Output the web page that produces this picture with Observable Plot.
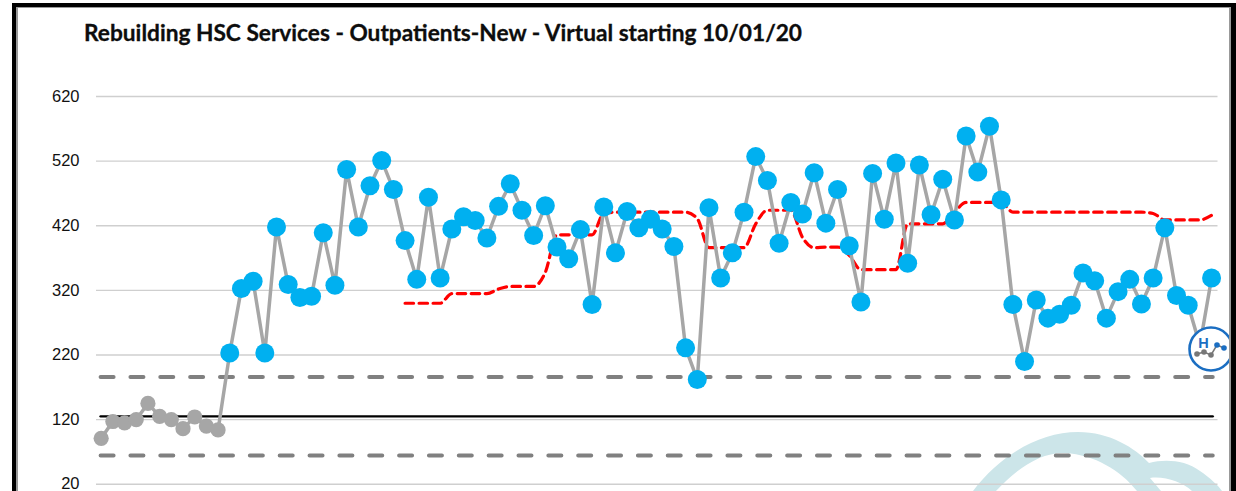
<!DOCTYPE html>
<html>
<head>
<meta charset="utf-8">
<script src="https://cdn.jsdelivr.net/npm/d3@7"></script>
<script src="https://cdn.jsdelivr.net/npm/@observablehq/plot@0.6"></script>
<style>
  html, body { margin: 0; padding: 0; background: #fff; overflow: hidden; }
  #page { position: relative; width: 1236px; height: 491px; overflow: hidden; }
  #title { position: absolute; left: 84px; top: 19px; font: 700 22.7px Lato, sans-serif; color: #0d0d0d; white-space: nowrap; -webkit-text-stroke: 0.3px #0d0d0d; }
  #chart, #decor, #frame, #icon { position: absolute; left: 0; top: 0; }
  #chart svg { background: transparent !important; display: block; }
  #frame { left: 12px; top: 3px; width: 1224px; height: 520px; box-sizing: border-box;
           border: solid #000; border-width: 4.5px 5px 4.5px 4px; }
  #frame div { width: 100%; height: 100%; box-sizing: border-box; border: solid #999; border-width: 1.5px 2px 1.5px 2px; }
</style>
</head>
<body>
<div id="page">
  <svg id="decor" width="1236" height="491">
    <path d="M973 491 C1000 455 1040 432 1078 432 C1110 432 1135 448 1149 463 C1165 459 1185 460 1200 471 C1210 478 1218 485 1222 491 L1192 491 C1182 482 1165 476 1150 478 L1161 491 L1137 491 C1120 470 1095 455 1065 453 C1040 452 1015 470 996 491 Z" fill="#cce5e9"/>
  </svg>
  <div id="chart"></div>
  <div id="title">Rebuilding HSC Services - Outpatients-New - Virtual starting 10/01/20</div>
  <svg id="icon" width="1236" height="491">
    <circle cx="1211" cy="349" r="21.5" fill="#fff" stroke="#1b6ec2" stroke-width="2.6"/>
    <text x="1203.5" y="347.5" text-anchor="middle" font-family="Liberation Sans" font-weight="700" font-size="14.5" fill="#1b6ec2">H</text>
    <polyline points="1197,354 1204,352 1211,355 1217,345 1224,348" fill="none" stroke="#777" stroke-width="1.5"/>
    <circle cx="1197" cy="354" r="2.8" fill="#777"/><circle cx="1204" cy="352" r="2.8" fill="#777"/><circle cx="1211" cy="355" r="2.8" fill="#777"/>
    <circle cx="1217" cy="345" r="2.8" fill="#1b6ec2"/><circle cx="1224" cy="348" r="2.8" fill="#1b6ec2"/>
  </svg>
  <div id="frame"><div></div></div>
</div>
<script>
const yTicks = [20, 120, 220, 320, 420, 520, 620];
const activity = [
  91, 117, 115, 120, 145, 125, 120, 106, 124, 110, 104,
  223, 323, 334, 223, 418, 329, 309, 311, 409, 328, 507, 418, 482, 521, 476, 397,
  337, 464, 339, 415, 434, 428, 401, 450, 485, 444, 405, 451, 387, 369, 414, 298,
  449, 378, 442, 417, 430, 415, 388, 231, 182, 448, 339, 378, 441, 527, 490, 393,
  456, 438, 502, 424, 476, 389, 302, 501, 430, 517, 362, 514, 437, 492, 429, 559,
  503, 574, 460, 298, 210, 305, 277, 283, 297, 347, 335, 277, 318, 337, 299, 339,
  417, 312, 297, 235, 339
];
const baselineCount = 11;
const rollingStart = 26;
const rolling = [
  300, 300, 300, 300, 315, 315, 315, 315, 322, 326, 326, 326, 348, 406, 406, 406, 406,
  439, 441, 441, 441, 441, 441, 441, 441, 431, 386, 386, 386, 386, 423, 444, 444, 444,
  402, 386, 387, 387, 374, 352, 352, 352, 352, 423, 423, 423, 423, 441, 456, 456, 456, 456,
  441, 441, 441, 441, 441, 441, 441, 441, 441, 441, 441, 441, 439, 429, 429, 429, 429, 436
];
const upperLimit = 186;
const mean = 125;
const lowerLimit = 64.5;

const points = activity.map((value, i) => ({i, value}));
const redPoints = rolling.map((value, k) => ({i: k + rollingStart, value}));
const limitX = [-0.05, 95.1];
const lineAt = v => limitX.map(i => ({i, value: v}));
const dash = {x: "i", y: "value", stroke: "#808080", strokeWidth: 4, strokeDasharray: "13 16.85", strokeLinecap: "round"};

const chart = Plot.plot({
  width: 1236, height: 491,
  marginLeft: 96, marginRight: 18.5, marginTop: 96, marginBottom: 7.3,
  style: {background: "transparent", overflow: "visible"},
  x: {domain: [-0.4, 95.55], axis: null},
  y: {domain: [20, 620]},
  marks: [
    Plot.ruleY(yTicks, {stroke: "#cfcfcf", strokeWidth: 1.4}),
    Plot.axisY({ticks: yTicks, tickSize: 0, tickPadding: 17, label: null,
      fontSize: 16.5, fontFamily: "Liberation Sans, Arial, sans-serif", color: "#111", fill: "#111", tickFormat: d => String(d)}),
    Plot.line(lineAt(upperLimit), dash),
    Plot.line(lineAt(lowerLimit), dash),
    Plot.line(lineAt(mean), {x: "i", y: "value", stroke: "#000", strokeWidth: 2.4}),
    Plot.line(redPoints, {x: "i", y: "value", stroke: "#ff0000", strokeWidth: 3.2, strokeDasharray: "8.5 5.5", curve: "monotone-x"}),
    Plot.line(points, {x: "i", y: "value", stroke: "#a6a6a6", strokeWidth: 3.5}),
    Plot.dot(points.slice(0, baselineCount), {x: "i", y: "value", r: 7.6, fill: "#a6a6a6"}),
    Plot.dot(points.slice(baselineCount), {x: "i", y: "value", r: 9.5, fill: "#00b0f0"})
  ]
});
document.getElementById("chart").appendChild(chart);
</script>
</body>
</html>
